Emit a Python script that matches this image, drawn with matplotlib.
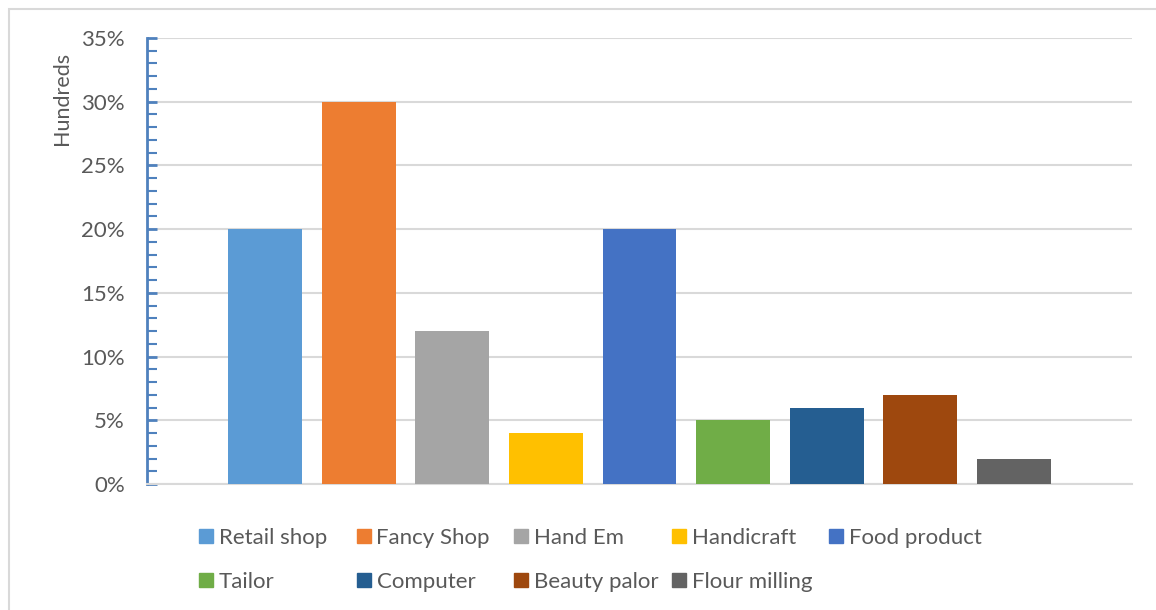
import matplotlib.pyplot as plt
from matplotlib.patches import Rectangle
from matplotlib.ticker import MultipleLocator, FuncFormatter

plt.rcParams['font.family'] = ['Lato', 'DejaVu Sans']

# data
categories = ['Retail shop', 'Fancy Shop', 'Hand Em', 'Handicraft', 'Food product',
              'Tailor', 'Computer', 'Beauty palor', 'Flour milling']
values = [20, 30, 12, 4, 20, 5, 6, 7, 2]
colors = ['#5B9BD5', '#ED7D31', '#A5A5A5', '#FFC000', '#4472C4',
          '#70AD47', '#255E91', '#9E480E', '#636363']

W, H = 1156, 610
fig = plt.figure(figsize=(W/100, H/100), dpi=100)
ax = fig.add_axes([147/W, 1-484/H, (1132-147)/W, (484-38)/H])

for i, (c, v, col) in enumerate(zip(categories, values, colors)):
    ax.bar(i, v, width=0.79, color=col, label=c, zorder=3)

ax.set_xlim(-1.26, len(categories) - 1 + 1.26)
ax.set_ylim(0, 35)
ax.yaxis.set_major_locator(MultipleLocator(5))
ax.yaxis.set_minor_locator(MultipleLocator(1))
ax.yaxis.set_major_formatter(FuncFormatter(lambda v, p: '%d%%' % v))
ax.set_xticks([])
ax.grid(axis='y', which='major', color='#D9D9D9', linewidth=1.5, zorder=0)

for s in ['top', 'right']:
    ax.spines[s].set_visible(False)
ax.spines['bottom'].set_color('#D9D9D9')
ax.spines['bottom'].set_linewidth(1.5)
ax.spines['left'].set_color('#4F81BD')
ax.spines['left'].set_linewidth(2)
ax.tick_params(axis='y', which='both', direction='in', color='#4F81BD',
               labelcolor='#595959', labelsize=16, pad=16)
ax.tick_params(axis='y', which='major', length=7, width=2)
ax.tick_params(axis='y', which='minor', length=7, width=1.5)

fig.text(62/W, 1-98/H, 'Hundreds', rotation=90, ha='center', va='center',
         fontsize=15.5, color='#595959')

# legend: two rows, fixed column width like Excel
ncol = 5
for i, (c, col) in enumerate(zip(categories, colors)):
    r, k = divmod(i, ncol)
    x0 = 199 + 157.5 * k
    y0 = 536 + 44 * r
    fig.patches.append(Rectangle((x0/W, 1-(y0+7)/H), 14/W, 14/H,
                                 transform=fig.transFigure, color=col))
    fig.text((x0+20)/W, 1-y0/H, c, ha='left', va='center_baseline',
             fontsize=16, color='#595959')

# chart border
fig.patches.append(Rectangle((9/W, -0.1), 1.2, (H-9)/H + 0.1,
                             transform=fig.transFigure, fill=False,
                             edgecolor='#D9D9D9', linewidth=1.5))

fig.savefig('out.png', dpi=100)
